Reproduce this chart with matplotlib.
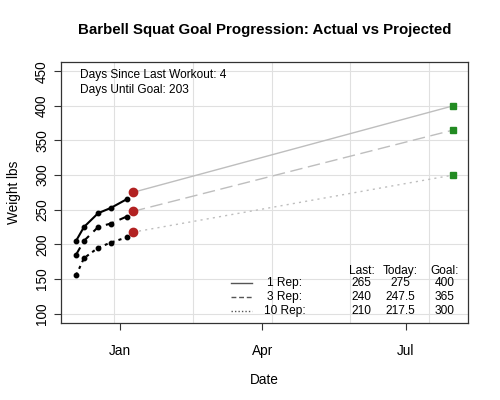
import datetime as dt
import matplotlib
matplotlib.use("Agg")
import matplotlib.pyplot as plt
import matplotlib.dates as mdates
from matplotlib.ticker import MultipleLocator

plt.rcParams["font.family"] = ["Liberation Sans", "DejaVu Sans"]

# workout history
workout_dates = ["2025-12-04", "2025-12-09", "2025-12-18", "2025-12-26", "2026-01-05"]
one_rep = [205, 225, 245, 252.5, 265]
three_rep = [185, 205, 225, 230, 240]
ten_rep = [155, 180, 195, 202.5, 210]

today_date = "2026-01-09"
goal_date = "2026-07-31"
rep_names = ["1 Rep:", "3 Rep:", "10 Rep:"]
today_vals = [275, 247.5, 217.5]
goal_vals = [400, 365, 300]

dates = [dt.date.fromisoformat(d) for d in workout_dates]
today = dt.date.fromisoformat(today_date)
goal = dt.date.fromisoformat(goal_date)
series = [one_rep, three_rep, ten_rep]

styles = ["-", (0, (4, 3)), (0, (1.5, 2))]
proj_styles = ["-", (0, (9, 4)), (0, (1.5, 3))]

fig = plt.figure(figsize=(5, 4), dpi=100)
ax = fig.add_axes([0.122, 0.192, 0.814, 0.654])

for vals, ls, pls, tv, gv in zip(series, styles, proj_styles, today_vals, goal_vals):
    ax.plot(dates, vals, color="black", lw=1.5, ls=ls, marker="o", ms=3.2, zorder=3)
    ax.plot([today, goal], [tv, gv], color="#bebebe", lw=1, ls=pls, zorder=2)
    ax.plot([today], [tv], "o", color="#b22222", ms=6, zorder=4)
    ax.plot([goal], [gv], "s", color="#228b22", ms=5, zorder=4)

# R-style 4% padding on x, fixed y range
x0 = mdates.date2num(dates[0])
x1 = mdates.date2num(goal)
pad = (x1 - x0) * 0.04
ax.set_xlim(x0 - pad, x1 + pad)
ax.set_ylim(100 - 14, 450 + 14)

ax.xaxis.set_major_locator(mdates.MonthLocator(bymonth=[1, 4, 7]))
ax.xaxis.set_major_formatter(mdates.DateFormatter("%b"))
ax.xaxis.set_minor_locator(MultipleLocator(50))
ax.yaxis.set_major_locator(MultipleLocator(50))
ax.grid(which="minor", axis="x", color="#e0e0e0", lw=0.8)
ax.grid(which="major", axis="y", color="#e0e0e0", lw=0.8)
ax.tick_params(which="minor", length=0)
ax.tick_params(which="major", length=5, width=0.8, labelsize=9.8, color="#333333")
ax.tick_params(axis="x", pad=10)
ax.set_axisbelow(True)
for lab in ax.get_yticklabels():
    lab.set_rotation(90)
    lab.set_va("center")
for s in ax.spines.values():
    s.set_color("#333333")
    s.set_linewidth(0.9)

ax.set_title("Barbell Squat Goal Progression: Actual vs Projected",
             fontsize=10.8, fontweight="bold", pad=20)
ax.set_xlabel("Date", fontsize=9.8, labelpad=11)
ax.set_ylabel("Weight lbs", fontsize=9.8, labelpad=10)

days_since = (today - dates[-1]).days
days_until = (goal - today).days
ax.text(0.047, 0.95, f"Days Since Last Workout: {days_since}", transform=ax.transAxes,
        fontsize=8.6, va="center")
ax.text(0.047, 0.893, f"Days Until Goal: {days_until}", transform=ax.transAxes,
        fontsize=8.6, va="center")

# summary table at lower right
row_y = [0.153, 0.1005, 0.048]
col_x = [0.739, 0.833, 0.942]
for cx, head in zip(col_x, ["Last:", "Today:", "Goal:"]):
    ax.text(cx, 0.201, head, transform=ax.transAxes, fontsize=8.6, ha="center", va="center")
for ry, name, vals, ls, tv, gv in zip(row_y, rep_names, series, ["-", (0, (3.5, 2)), (0, (1, 1.5))],
                                      today_vals, goal_vals):
    ax.plot([0.417, 0.469], [ry, ry], transform=ax.transAxes, color="#555555", lw=1, ls=ls)
    ax.text(0.549, ry, name, transform=ax.transAxes, fontsize=8.6, ha="center", va="center")
    for cx, v in zip(col_x, [vals[-1], tv, gv]):
        ax.text(cx, ry, f"{v:g}", transform=ax.transAxes, fontsize=8.6, ha="center", va="center")

fig.savefig("out.png", dpi=100)
